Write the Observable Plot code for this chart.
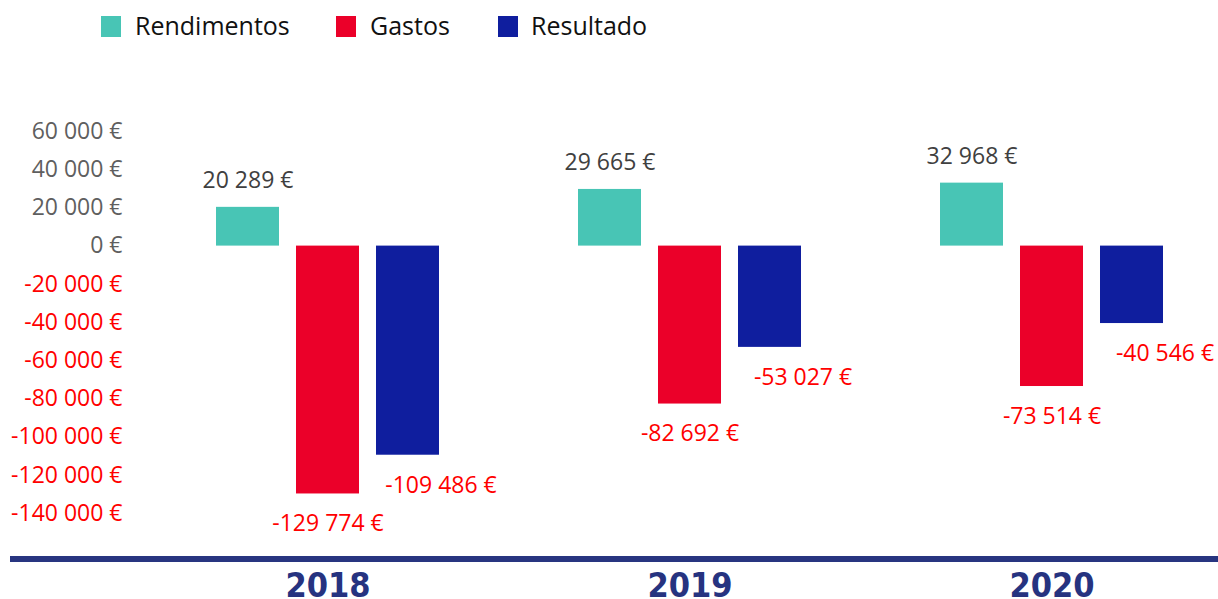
<!DOCTYPE html>
<html>
<head>
<meta charset="utf-8">
<script src="https://cdn.jsdelivr.net/npm/d3@7"></script>
<script src="https://cdn.jsdelivr.net/npm/@observablehq/plot@0.6"></script>
<style>
  html, body { margin: 0; padding: 0; background: #fff; }
  #wrap { position: relative; width: 1218px; height: 599px; overflow: hidden; font-family: "Open Sans", sans-serif; }
  .sw { position: absolute; top: 16px; width: 20px; height: 21px; }
  .lt { position: absolute; top: 0px; font-size: 25px; line-height: 50px; color: #111; white-space: nowrap; }
  #baseline { position: absolute; left: 10px; top: 556px; width: 1208px; height: 6px; background: #283580; }
  #chart { position: absolute; left: 0; top: 0; }
</style>
</head>
<body>
<div id="wrap">
  <div id="chart"></div>
  <div id="baseline"></div>
  <div id="legend"></div>
</div>
<script>
const years = ["2018", "2019", "2020"];
const series = ["Rendimentos", "Gastos", "Resultado"];
const colors = ["#48c5b5", "#eb0029", "#0f1e9e"];
const rendimentos = [20289, 29665, 32968];
const gastos = [-129774, -82692, -73514];
const resultado = [-109486, -53027, -40546];
const yTicks = [60000, 40000, 20000, 0, -20000, -40000, -60000, -80000, -100000, -120000, -140000];

const values = [rendimentos, gastos, resultado];
const data = [];
years.forEach((yr, i) => series.forEach((s, j) => data.push({year: yr, series: s, value: values[j][i]})));

const loc = d3.formatLocale({decimal: ",", thousands: " ", grouping: [3], currency: ["", " €"], minus: "-"});
const fmt = v => loc.format(",")(v) + " €";

// Legend (HTML, above chart)
const legendPos = [{sx: 101, tx: 135}, {sx: 336, tx: 370}, {sx: 498, tx: 531}];
const legend = document.getElementById("legend");
series.forEach((s, i) => {
  const sw = document.createElement("div");
  sw.className = "sw"; sw.style.left = legendPos[i].sx + "px"; sw.style.background = colors[i];
  const t = document.createElement("div");
  t.className = "lt"; t.style.left = legendPos[i].tx + "px"; t.textContent = s;
  legend.appendChild(sw); legend.appendChild(t);
});

const chart = Plot.plot({
  width: 1218,
  height: 599,
  marginLeft: 216,
  marginRight: 55,
  marginTop: 131,
  marginBottom: 86,
  style: {fontFamily: "'Open Sans', sans-serif", fontSize: "23px", background: "transparent"},
  fx: {domain: years, paddingInner: 0.384, paddingOuter: 0, axis: null},
  x: {domain: series, paddingInner: 0.2125, paddingOuter: 0, axis: null},
  y: {domain: [-140000, 60000], axis: null},
  color: {domain: series, range: colors},
  marks: [
    Plot.axisY({ticks: yTicks, tickSize: 0, tickPadding: 94, tickFormat: fmt, fontSize: 23,
      fill: d => d < 0 ? "#ff0000" : "#5f5f5f", label: null}),
    Plot.barY(data, {fx: "year", x: "series", y: "value", fill: "series"}),
    Plot.text(data.filter(d => d.value >= 0), {fx: "year", x: "series", y: "value", text: d => fmt(d.value),
      lineAnchor: "bottom", dy: -19, fill: "#404040", fontSize: 23}),
    Plot.text(data.filter(d => d.value < 0 && d.series !== "Resultado"), {fx: "year", x: "series", y: "value", text: d => fmt(d.value),
      lineAnchor: "top", dy: 21, fill: "#ff0000", fontSize: 23}),
    Plot.text(data.filter(d => d.value < 0 && d.series === "Resultado"), {fx: "year", x: "series", y: "value", text: d => fmt(d.value),
      lineAnchor: "top", dy: 21, dx: 33, fill: "#ff0000", fontSize: 23}),
    Plot.axisFx({anchor: "bottom", tickSize: 0, tickPadding: 59, fontSize: 34, fontWeight: "bold",
      fontFamily: "'DejaVu Sans Condensed', 'DejaVu Sans', sans-serif", fill: "#263380", label: null})
  ]
});
document.getElementById("chart").appendChild(chart);
</script>
</body>
</html>
